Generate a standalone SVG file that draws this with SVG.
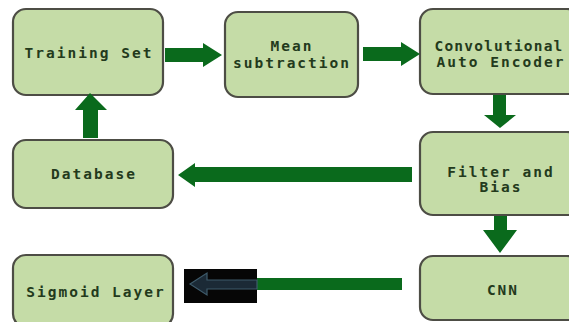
<svg xmlns="http://www.w3.org/2000/svg" width="569" height="322" viewBox="0 0 569 322">
<style>
.box{fill:#c5dca7;stroke:#4d4d45;stroke-width:2.2}
.t{font-family:"DejaVu Sans Mono","Liberation Mono",monospace;font-weight:bold;font-size:14.5px;letter-spacing:2px;fill:#233a1c;text-anchor:middle}
.arr{fill:#0a6a1c}
</style>
<rect width="569" height="322" fill="#ffffff"/>
<g id="training-set"><rect class="box" x="13" y="9" width="150" height="86" rx="13"/><text class="t" x="89" y="58">Training Set</text></g>
<g id="mean-subtraction"><rect class="box" x="225" y="12" width="133" height="85" rx="13"/><text class="t" x="292" y="51">Mean</text><text class="t" x="292" y="68">subtraction</text></g>
<g id="conv-auto-encoder"><rect class="box" x="420" y="9" width="160" height="85" rx="13"/><text class="t" x="499" y="51" style="letter-spacing:1.2px">Convolutional</text><text class="t" x="501" y="67">Auto Encoder</text></g>
<g id="filter-bias"><rect class="box" x="420" y="132" width="160" height="83" rx="13"/><text class="t" x="501" y="177">Filter and</text><text class="t" x="501" y="192">Bias</text></g>
<g id="database"><rect class="box" x="13" y="140" width="160" height="68" rx="13"/><text class="t" x="94" y="179">Database</text></g>
<g id="cnn"><rect class="box" x="420" y="256" width="160" height="64" rx="13"/><text class="t" x="503" y="295">CNN</text></g>
<g id="sigmoid-layer"><rect class="box" x="13" y="255" width="160" height="72" rx="13"/><text class="t" x="96" y="297">Sigmoid Layer</text></g>
<g id="connectors">
<polygon class="arr" points="165,48 203,48 203,43 222,55 203,67 203,62 165,62"/>
<polygon class="arr" points="363,47 401,47 401,42 420,54 401,66 401,61 363,61"/>
<polygon class="arr" points="493,95 506,95 506,115 516,115 500,128 484,115 493,115"/>
<polygon class="arr" points="412,167 195,167 195,163 178,175 195,187 195,182 412,182"/>
<polygon class="arr" points="494,216 507,216 507,230 517,230 500,253 483,230 494,230"/>
<polygon class="arr" points="83,138 98,138 98,110 107,110 90,93 75,110 83,110"/>
<rect x="257" y="278" width="145" height="12" fill="#0a6a1c"/>
<rect x="184" y="269" width="73" height="34" fill="#060606"/>
<polygon points="257,280 207,280 207,273 190,284 207,295 207,289 257,289" fill="#1b2a36" stroke="#3e5b6b" stroke-width="1.2"/>
</g>
</svg>
